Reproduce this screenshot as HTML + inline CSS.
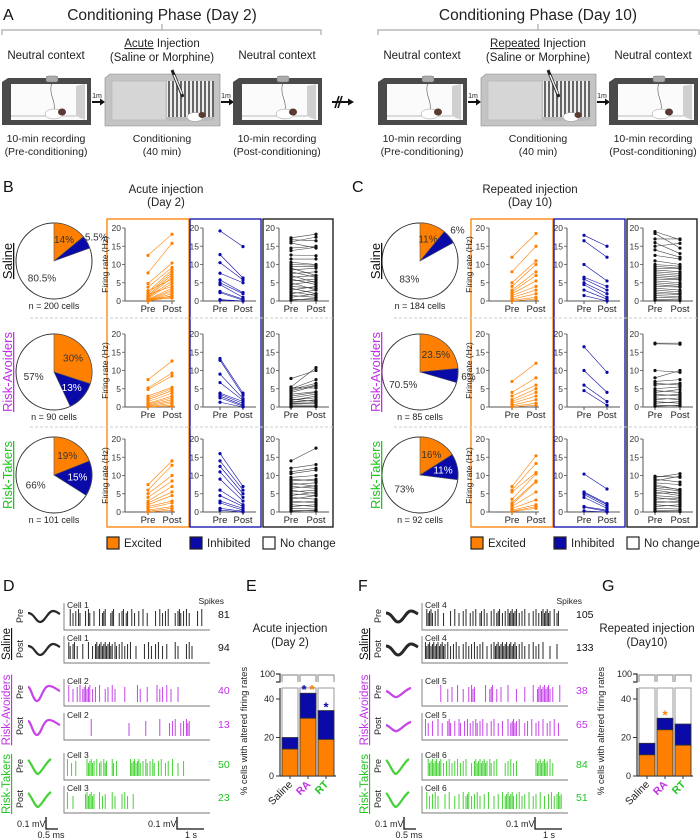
<!DOCTYPE html>
<html><head><meta charset="utf-8"><style>
html,body{margin:0;padding:0;background:#fff;}
svg{display:block;font-family:"Liberation Sans",Arial,sans-serif;}
</style></head><body>
<svg id="fig" width="700" height="840" viewBox="0 0 700 840" xmlns="http://www.w3.org/2000/svg">
<rect x="0" y="0" width="700" height="840" fill="#fff"/>
<g id="partA"></g>
<g id="partBC"></g>
<g id="partDF"></g>
<g id="partEG"></g>
</svg>
<script>
// ---------- DATA ----------
const pieGroups = ["Saline","Risk-Avoiders","Risk-Takers"];
const pieCellsB = [200, 90, 101];
const pieCellsC = [184, 85, 92];
const pieExcB = [14, 30, 19];
const pieInhB = [5.5, 13, 15];
const pieExcC = [11, 23.5, 16];
const pieInhC = [6, 6, 11];

const yTicks = [0,5,10,15,20];
// B Saline
const bSalExcPre = [12.5,7.7,4.8,3.8,2.5,2,1.5,1.2,1,0.8,0.5,0.3,0.2,0.1,0,0,2.8,1.8,0.6,0.4];
const bSalExcPost = [18.3,15.8,10.4,9.2,8.5,7.8,7.2,6.5,5.5,4.8,3.5,3,2.5,2,1.5,1,6,4,1.2,0.8];
const bSalInhPre = [19.2,12.7,10.5,7.6,5.8,5,4.5,2.6,2.3,0.4,0.2];
const bSalInhPost = [14.9,6.3,5.8,5,2.3,2,1,0.5,0.2,0,0];
const bSalNcPre = [17.3,16.8,16.2,14.5,13.8,12.6,11.5,10.6,10,9.5,9,8.5,8,7.5,7,6.5,6,5.5,5,4.5,4,3.5,3,2.5,2,1.5,1,0.5,0.2,15.9];
const bSalNcPost = [18.3,16.5,17.5,15,14.7,12.4,11.5,10,9.8,9.5,7,9,6.5,8,5,7,4.5,6,3,5.5,3.5,2,4,1.5,3,1,2,0.3,0.8,14.5];
// B RA
const bRaExcPre = [7.5,5.2,4.8,3,2.5,2,1.5,1,0.8,0.5,0.3,0.1,0,0];
const bRaExcPost = [12.6,9.3,8.5,5.4,5,4.5,3.8,3,2.5,2,1.5,1,0.5,0.2];
const bRaInhPre = [13.3,12.8,9,6.7,3.8,3.5,3,2.5,1.3];
const bRaInhPost = [3.8,3.2,2.3,1.8,1.5,1,0.5,0.2,0];
const bRaNcPre = [7.8,5.5,5,4.5,4,3.5,3,2.5,2,1.8,1.5,1.2,1,0.8,0.5,0.2,0,5.3,4.8,2.2];
const bRaNcPost = [10,10.8,7.5,6,5.8,4.2,4,3.5,2.5,3,1.8,2,1.2,1,0.5,0.2,0.1,5.2,6.5,1.5];
// B RT
const bRtExcPre = [7.5,6,5,4,3,2.5,2,1.5,1,0.5,0.2,0];
const bRtExcPost = [14,12.8,10,8.5,7,5.5,4.5,3,2.5,1.5,1,0.5];
const bRtInhPre = [16,14,12.5,11,9,6,4.5,3,2.5,1,0.5];
const bRtInhPost = [7,6,5,4,3,2,1.5,1,0.5,0.2,0];
const bRtNcPre = [14,12,10.5,9.5,9,8.5,8,7.5,7,6.5,6,5.5,5,4.5,4,3.5,3,2.5,2,1.5,1,0.5,0.2,11];
const bRtNcPost = [17.5,13,11.5,10,8.5,9,7,8,6.5,7.2,5,6,4.5,5.5,3.5,4.5,2.5,3,1.5,2,0.8,0.3,0.5,12];
// C Saline
const cSalExcPre = [12,8,5,4,3,2.5,2,1.5,1,0.5,0.2,0];
const cSalExcPost = [18.5,15,11,10,8,7,5.5,4,3,2,1,0.5];
const cSalInhPre = [18,16.5,10,6.5,6,5,4.5,3,1.5];
const cSalInhPost = [15,12,5.5,4,3,2,1,0.5,0];
const cSalNcPre = [19,18.5,17,16,15,14,12.5,11,10,9.5,9,8.5,8,7.5,7,6.5,6,5.5,5,4.5,4,3.5,3,2.5,2,1.5,1,0.5,0.2];
const cSalNcPost = [16.8,14.5,17,13,15.8,12,11.5,10,9.5,9,8.8,8,7.5,7,6.5,6,5.8,5,4.5,4,3.8,3,2.5,2,1.8,1.2,0.8,0.3,0.1];
// C RA
const cRaExcPre = [7,4,3,2,1.5,1,0.5,0.2,0];
const cRaExcPost = [12,8,6,5,4,3,2,1,0.5];
const cRaInhPre = [16.5,10,6,4.5];
const cRaInhPost = [9.5,4,1.5,0.5];
const cRaNcPre = [17.5,17.3,10,8,7,6.5,6,5,4.5,4,3.5,3,2.5,2,1.5,1,0.5,0.2];
const cRaNcPost = [17.5,17.2,9.5,10,7.5,6,6.5,5.5,4,4.8,3,3.5,2,2.5,1,1.5,0.3,0.5];
// C RT
const cRtExcPre = [7,6,5.5,3.5,2.5,2,1.5,1,0.5,0.2,0.1];
const cRtExcPost = [15.4,13.3,10.8,10.4,8.5,8.2,5.5,3.3,2,1.5,1];
const cRtInhPre = [10.4,5.5,5.2,4.8,4,1.5,1.3,0.3];
const cRtInhPost = [6.3,2.3,2,1.5,1,0.5,0.2,0];
const cRtNcPre = [9.8,9.5,9,8.5,8,7.5,7,6.5,6,5.5,5,4.5,4,3.5,3,2.5,2,1.5,1,0.5,0.2];
const cRtNcPost = [9.5,10.5,8.2,9.8,7.5,6,6.2,5.8,5,4.5,5.5,4,3.2,3.8,2.5,3,1.5,2,0.8,0.4,0.1];

// spike trains (time 0-100)
const spk1 = [3,5,7,9,10,14,16,17,20,24,26,27,28,32,33,34,38,40,41,43,44,47,49,52,55,58,64,67,69,71,73,78,80,81,82,84,86,88,94,97];
const spk2 = [2,3,5,6,8,12,16,19,21,22,23,24,25,26,27,28,29,30,31,32,33,35,36,38,40,42,44,46,50,56,59,61,64,66,69,72,78,80,86,88,90];
const spk3 = [2,5,8,10,12,13,14,15,16,17,19,21,24,28,30,33,35,42,51,53,58,65,67,69,72,75,80];
const spk4 = [18,45,57,67,74,76,78,82,84,86,87,88];
const spk5 = [1,4,7,15,16,17,18,19,20,22,24,25,27,28,29,33,34,36,46,47,48,49,50,51,52,53,55,57,58,60,62,63,66,68,71,73,76,80,84];
const spk6 = [1,5,14,15,16,17,18,19,20,24,26,28,33,35,40,42,44,48];
const spk7 = [2,3,4,5,6,8,10,14,19,22,25,28,30,33,35,37,40,41,43,45,48,50,52,53,54,56,58,60,61,62,63,64,65,66,68,70,72,75,78,80,82,84,85,86,87,88,89,90,93,95,96];
const spk8 = [1,2,3,4,5,6,7,8,9,10,11,12,13,14,15,17,19,21,23,25,28,30,32,34,36,38,40,42,45,48,50,51,52,53,54,55,56,57,58,59,60,61,62,63,64,65,66,68,70,72,75,78,80,82,85,90,95];
const spk9 = [12,17,20,24,28,32,34,35,36,44,47,48,49,52,55,60,66,72,78,81,82,83,84,85,86,87,88,89,90,92,97];
const spk10 = [1,3,6,10,13,17,18,19,22,25,26,29,31,33,35,37,38,40,42,45,48,50,53,56,60,62,63,64,65,66,68,72,74,77,80,82,85,88,90,93,96];
const spk11 = [3,4,5,6,7,8,9,10,11,12,14,16,18,20,22,24,26,28,30,34,36,37,38,39,40,41,42,43,44,45,47,48,50,52,58,60,62,64,66,80,81,82,83,84,85,86,87,88,90,92];
const spk12 = [2,4,6,8,10,15,18,22,25,28,30,31,32,34,36,38,40,43,46,50,53,56,58,59,60,61,62,63,64,66,68,70,72,75,78,80,83,86,89,91,93,95,96,97,98];
const spikeCountsD = [81,94,40,13,50,23];
const spikeCountsF = [105,133,38,65,84,51];
const cellLabelsD = ["Cell 1","Cell 1","Cell 2","Cell 2","Cell 3","Cell 3"];
const cellLabelsF = ["Cell 4","Cell 4","Cell 5","Cell 5","Cell 6","Cell 6"];

// bar charts
const barCats = ["Saline","RA","RT"];
const barExcE = [14,30,19];
const barTotE = [20,43,34];
const barExcG = [11,24,16];
const barTotG = [17,30,27];
const barTicks = [0,20,40];

// ---------- HELPERS ----------
const NS="http://www.w3.org/2000/svg";
const ORANGE="#ff8000", BLUE="#0a0aa8", PURPLE="#c030e6", GREEN="#22c422";
function mk(parent, tag, attrs, text){
  const e=document.createElementNS(NS,tag);
  for(const k in attrs) e.setAttribute(k,attrs[k]);
  if(text!==undefined) e.textContent=text;
  parent.appendChild(e); return e;
}
const gA=document.getElementById('partA');
const gBC=document.getElementById('partBC');
const gDF=document.getElementById('partDF');
const gEG=document.getElementById('partEG');

// ---------- PANEL A ----------
function neutralBox(x){
  const g=mk(gA,'g',{});
  
  
  mk(g,'polygon',{points:`${x},${82} ${x+6},${78} ${x+89},${78} ${x+89},${125} ${x},${125}`,fill:'#4a4a4a'});
  mk(g,'rect',{x:x+9,y:84,width:76,height:36,fill:'#fbfbfb'});
  mk(g,'polygon',{points:`${x+74},${86} ${x+83},${84} ${x+83},${120} ${x+74},${116}`,fill:'#d0d0d0'});
  mk(g,'line',{x1:x+9,y1:116,x2:x+74,y2:116,stroke:'#bbb','stroke-width':1});
  mk(g,'rect',{x:x+44,y:76,width:12,height:6,rx:2,fill:'#aaa',stroke:'#777','stroke-width':0.5});
  mk(g,'path',{d:`M${x+50},82 C${x+46},95 ${x+54},100 ${x+52},110`,fill:'none',stroke:'#555','stroke-width':0.6});
  mk(g,'ellipse',{cx:x+52,cy:114,rx:9,ry:5,fill:'#fff',stroke:'#999','stroke-width':0.5});
  mk(g,'ellipse',{cx:x+60,cy:112,rx:4,ry:3.5,fill:'#5a3a30'});
}
function condBox(x){
  const g=mk(gA,'g',{});
  
  
  mk(g,'polygon',{points:`${x},${78} ${x+5},${74} ${x+115},${74} ${x+115},${126} ${x},${126}`,fill:'#c4c4c4',stroke:'#888','stroke-width':0.6});
  mk(g,'rect',{x:x+7,y:81,width:54,height:39,fill:'#d6d6d6',stroke:'#aaa','stroke-width':0.5});
  mk(g,'rect',{x:x+62,y:81,width:47,height:39,fill:'#eee'});
  for(let i=0;i<12;i++) mk(g,'rect',{x:x+63+i*4,y:81,width:2,height:36,fill:'#666'});
  mk(g,'rect',{x:x+62,y:117,width:47,height:4,fill:'#bbb'});
  mk(g,'ellipse',{cx:x+90,cy:117,rx:8,ry:4.5,fill:'#fff',stroke:'#999','stroke-width':0.5});
  mk(g,'ellipse',{cx:x+97,cy:115,rx:3.5,ry:3,fill:'#5a3a30'});
  mk(g,'line',{x1:x+67,y1:70,x2:x+78,y2:97,stroke:'#222','stroke-width':3});
  mk(g,'line',{x1:x+69,y1:75,x2:x+77,y2:94,stroke:'#eee','stroke-width':1.5});
}
function arrow(x){
  const g=mk(gA,'g',{});
  
  
  mk(g,'text',{x:x+5,y:98,'font-size':7,'text-anchor':'middle',fill:'#222'},'1m');
  mk(g,'line',{x1:x,y1:102,x2:x+8,y2:102,stroke:'#111','stroke-width':2});
  mk(g,'polygon',{points:`${x+8},98.5 ${x+13},102 ${x+8},105.5`,fill:'#111'});
}
function txt(parent,x,y,s,t,attrs){
  const a=Object.assign({x:x,y:y,'font-size':s,'text-anchor':'middle',fill:'#222'},attrs||{});
  return mk(parent,'text',a,t);
}
function phase(off, title, inj){
  const cx = off===0?162:538;
  const t=txt(gA,cx,20,15.5,title);
  
  
  const x0 = off===0?2:378, x1 = off===0?322:700;
  const br=mk(gA,'path',{d:`M${x0},35 V30 H${x1-1} V35 M${cx},30 V24`,fill:'none',stroke:'#aaa','stroke-width':1.2});
  
  
  const bx=off; 
  neutralBox(bx+2); arrow(bx+92); condBox(bx+105); arrow(bx+221); neutralBox(bx+233);
  txt(gA,bx+46,59,11.5,'Neutral context');
  txt(gA,bx+277,59,11.5,'Neutral context');
  const it=mk(gA,'text',{x:bx+162,y:47,'font-size':11.5,'text-anchor':'middle',fill:'#222'});
  
  
  mk(it,'tspan',{'text-decoration':'underline'},inj); mk(it,'tspan',{}," Injection");
  txt(gA,bx+162,61,11.5,'(Saline or Morphine)');
  txt(gA,bx+46,142,10.5,'10-min recording');
  txt(gA,bx+46,155,10.5,'(Pre-conditioning)');
  txt(gA,bx+162,142,10.5,'Conditioning');
  txt(gA,bx+162,155,10.5,'(40 min)');
  txt(gA,bx+277,142,10.5,'10-min recording');
  txt(gA,bx+277,155,10.5,'(Post-conditioning)');
}
txt(gA,3,20,16,'A',{'text-anchor':'start',fill:'#111'});
phase(0,'Conditioning Phase (Day 2)','Acute');
phase(376,'Conditioning Phase (Day 10)','Repeated');
const brk=mk(gA,'g',{});


mk(brk,'line',{x1:332,y1:102,x2:348,y2:102,stroke:'#111','stroke-width':2});
mk(brk,'polygon',{points:'348,98.5 354,102 348,105.5',fill:'#111'});
mk(brk,'line',{x1:335,y1:108,x2:339,y2:96,stroke:'#111','stroke-width':1.6});
mk(brk,'line',{x1:338,y1:108,x2:342,y2:96,stroke:'#111','stroke-width':1.6});

// ---------- PANELS B & C ----------
txt(gBC,3,192,16,'B',{'text-anchor':'start',fill:'#111'});
txt(gBC,352,192,16,'C',{'text-anchor':'start',fill:'#111'});
txt(gBC,166,193,11.5,'Acute injection');
txt(gBC,166,206,11.5,'(Day 2)');
txt(gBC,530,193,11.5,'Repeated injection');
txt(gBC,530,206,11.5,'(Day 10)');

const rowZero=[301,407,512];
const grpColors=['#111',PURPLE,GREEN];
function pie(cx,cy,exc,inh,n,name){
  const r=38;
  const g=mk(gBC,'g',{});
  
  
  mk(g,'circle',{cx:cx,cy:cy,r:r,fill:'#fff',stroke:'#333','stroke-width':1});
  function pt(p,rr){const a=p/100*2*Math.PI; return [cx+rr*Math.sin(a), cy-rr*Math.cos(a)];}
  function slice(p0,p1,col,nm){
    const a=pt(p0,r), b=pt(p1,r); const large=(p1-p0)>50?1:0;
    const s=mk(g,'path',{d:`M${cx},${cy} L${a[0]},${a[1]} A${r},${r} 0 ${large} 1 ${b[0]},${b[1]} Z`,fill:col,stroke:'#555','stroke-width':0.6});
    
    
  }
  slice(0,exc,ORANGE,'slice-excited');
  slice(exc,exc+inh,BLUE,'slice-inhibited');
  function lab(p0,p1,col){
    const v=p1-p0; const rr = v<8?r*1.28:(v>50?r*0.55:r*0.62);
    const q=pt((p0+p1)/2,rr);
    txt(g,q[0],q[1]+3.5,10,(Math.round(v*10)/10)+'%',{fill:col});
  }
  lab(0,exc,'#333'); lab(exc,exc+inh, inh<8?'#333':'#fff'); lab(exc+inh,100,'#333');
  txt(g,cx,cy+r+10,9,'n = '+n+' cells');
}
function scatter(ax,pre,post,col,row,name,ylabel){
  const y0=rowZero[row]; const ys=v=>y0-v*73/20;
  const px=ax+(col===ORANGE?23:(col===BLUE?17:12)), qx=ax+(col===ORANGE?47:(col===BLUE?40:37));
  const g=mk(gBC,'g',{});
  
  
  mk(g,'line',{x1:ax,y1:ys(20),x2:ax,y2:y0,stroke:'#555','stroke-width':1});
  mk(g,'line',{x1:ax,y1:y0,x2:ax+(col===BLUE?53:50),y2:y0,stroke:'#555','stroke-width':1});
  yTicks.forEach(t=>{mk(g,'line',{x1:ax-3,y1:ys(t),x2:ax,y2:ys(t),stroke:'#555','stroke-width':0.8});
    txt(g,ax-4,ys(t)+3,8.5,String(t),{'text-anchor':'end',fill:'#333'});});
  mk(g,'line',{x1:px,y1:y0,x2:px,y2:y0+3,stroke:'#555'}); mk(g,'line',{x1:qx,y1:y0,x2:qx,y2:y0+3,stroke:'#555'});
  txt(g,px,y0+11,9.5,'Pre'); txt(g,qx,y0+11,9.5,'Post');
  if(ylabel){const yl=txt(g,0,0,8.5,'Firing rate (Hz)',{transform:`translate(${ax-17},${ys(10)}) rotate(-90)`});
    }
  const lc = col==='#111'?'#444':col;
  for(let i=0;i<pre.length;i++){
    const l=mk(g,'line',{x1:px,y1:ys(pre[i]),x2:qx,y2:ys(post[i]),stroke:lc,'stroke-width':0.6});
    
    
    const a=mk(g,'circle',{cx:px,cy:ys(pre[i]),r:1.6,fill:col});
    
    
    const b=mk(g,'circle',{cx:qx,cy:ys(post[i]),r:1.6,fill:col});
    
    
  }
}
function sideBlock(off,excs,inhs,ns,data){
  const b1=mk(gBC,'rect',{x:107+off,y:219,width:82,height:308,fill:'none',stroke:ORANGE,'stroke-width':1.3});
   
  const b2=mk(gBC,'rect',{x:190+off,y:219,width:71,height:308,fill:'none',stroke:BLUE,'stroke-width':1.3});
   
  const b3=mk(gBC,'rect',{x:263+off,y:219,width:70,height:308,fill:'none',stroke:'#111','stroke-width':1.3});
   
  [318,427].forEach(y=>{const d=mk(gBC,'line',{x1:30+off,y1:y,x2:333+off,y2:y,stroke:'#ccc','stroke-width':1,'stroke-dasharray':'3,2'});
     });
  const pcx=54+off+(off?2:0);
  for(let r=0;r<3;r++){
    const cy=[261,372,475][r];
    pie(pcx,cy,excs[r],inhs[r],ns[r],pieGroups[r]);
    const gl=txt(gBC,0,0,13,pieGroups[r],{transform:`translate(${12+off+(off?4:0)},${cy}) rotate(-90)`,fill:grpColors[r],'text-decoration':'underline'});
    
    
    scatter(125+off,data[r][0],data[r][1],ORANGE,r,'excited-'+pieGroups[r],true);
    scatter(203+off,data[r][2],data[r][3],BLUE,r,'inhibited-'+pieGroups[r],false);
    scatter(279+off,data[r][4],data[r][5],'#111',r,'nochange-'+pieGroups[r],false);
  }
  const lg=mk(gBC,'g',{});
  
  
  [[107,ORANGE,'Excited'],[190,BLUE,'Inhibited'],[263,'#fff','No change']].forEach(it=>{
    mk(lg,'rect',{x:it[0]+off,y:537,width:12,height:12,fill:it[1],stroke:'#222','stroke-width':1.2});
    txt(lg,it[0]+off+17,547,11.5,it[2],{'text-anchor':'start'});
  });
}
sideBlock(0,pieExcB,pieInhB,pieCellsB,[
  [bSalExcPre,bSalExcPost,bSalInhPre,bSalInhPost,bSalNcPre,bSalNcPost],
  [bRaExcPre,bRaExcPost,bRaInhPre,bRaInhPost,bRaNcPre,bRaNcPost],
  [bRtExcPre,bRtExcPost,bRtInhPre,bRtInhPost,bRtNcPre,bRtNcPost]]);
sideBlock(364,pieExcC,pieInhC,pieCellsC,[
  [cSalExcPre,cSalExcPost,cSalInhPre,cSalInhPost,cSalNcPre,cSalNcPost],
  [cRaExcPre,cRaExcPost,cRaInhPre,cRaInhPost,cRaNcPre,cRaNcPost],
  [cRtExcPre,cRtExcPost,cRtInhPre,cRtInhPost,cRtNcPre,cRtNcPost]]);

// ---------- PANELS D & F ----------
txt(gDF,3,591,16,'D',{'text-anchor':'start',fill:'#111'});
txt(gDF,358,591,16,'F',{'text-anchor':'start',fill:'#111'});
const baselines=[630,663,706,740,780,813];
function traces(off,trains,counts,cells){
  const x0=64+off, w=146;
  const tx=t=>x0+2+t/100*(w-6);
  txt(gDF,x0+160,604,8.5,'Spikes',{'text-anchor':'end'});
  for(let r=0;r<6;r++){
    const grp=Math.floor(r/2); const col=['#111',PURPLE,GREEN][grp];
    const spcol=['#111',PURPLE,'#33cc22'][grp];
    const b=baselines[r];
    const g=mk(gDF,'g',{});
    
    
    mk(g,'path',{d:`M${x0},${b-27} V${b} H${x0+w}`,fill:'none',stroke:'#777','stroke-width':0.9});
    txt(g,x0+3,b-22,8.5,cells[r],{'text-anchor':'start'});
    trains[r].forEach((t,i)=>{
      const h = (i%3===0)?17:(i%3===1?13:15);
      const s=mk(g,'line',{x1:tx(t),y1:b-4,x2:tx(t),y2:b-4-h,stroke:spcol,'stroke-width':0.9});
      
      
    });
    txt(g,x0+w+8,b-12,10.5,String(counts[r]),{'text-anchor':'start',fill:col});
    const wx=28+off, wy=b-14;
    let d;
    if(grp===0) d=`M${wx},${wy-3} C${wx+6},${wy-3} ${wx+8},${wy+6} ${wx+12},${wy+6} C${wx+17},${wy+6} ${wx+20},${wy-5} ${wx+25},${wy-5} C${wx+28},${wy-5} ${wx+30},${wy-3} ${wx+32},${wy-2}`;
    else if(grp===1) d=(off===0)?`M${wx},${wy-5} C${wx+3},${wy-5} ${wx+5},${wy+9} ${wx+9},${wy+9} C${wx+13},${wy+9} ${wx+15},${wy-6} ${wx+21},${wy-6} C${wx+26},${wy-6} ${wx+29},${wy-2} ${wx+32},${wy-1}`
      :`M${wx},${wy-1} C${wx+4},${wy} ${wx+7},${wy+6} ${wx+11},${wy+5} C${wx+16},${wy+3} ${wx+20},${wy-3} ${wx+25},${wy-4}`;
    else d=`M${wx},${wy-6} C${wx+3},${wy-4} ${wx+7},${wy+8} ${wx+10},${wy+8} C${wx+14},${wy+6} ${wx+18},${wy-4} ${wx+23},${wy-7}`;
    const wf=mk(gDF,'path',{d:d,fill:'none',stroke:spcol,'stroke-width':(grp===0&&off)?3:2.2,'stroke-opacity':0.9});
    
    
    txt(gDF,0,0,9,r%2===0?'Pre':'Post',{transform:`translate(${23+off},${b-14}) rotate(-90)`});
  }
  [['Saline',644,'#111'],['Risk-Avoiders',710,PURPLE],['Risk-Takers',784,GREEN]].forEach(it=>{
    const gl=txt(gDF,0,0,11.5,it[0],{transform:`translate(${10+off},${it[1]}) rotate(-90)`,fill:it[2],'text-decoration':'underline'});
    
    
  });
  const sb=mk(gDF,'g',{});
  
  
  txt(sb,17+off,827,9,'0.1 mV',{'text-anchor':'start'});
  mk(sb,'path',{d:`M${46+off},${817} V${829} H${58+off}`,fill:'none',stroke:'#111','stroke-width':1.3});
  txt(sb,51+off,838,9,'0.5 ms');
  txt(sb,148+off,827,9,'0.1 mV',{'text-anchor':'start'});
  mk(sb,'path',{d:`M${177+off},${817} V${829} H${204+off}`,fill:'none',stroke:'#111','stroke-width':1.3});
  txt(sb,191+off,838,9,'1 s');
}
traces(0,[spk1,spk2,spk3,spk4,spk5,spk6],spikeCountsD,cellLabelsD);
traces(358,[spk7,spk8,spk9,spk10,spk11,spk12],spikeCountsF,cellLabelsF);

// ---------- PANELS E & G ----------
txt(gEG,246,591,16,'E',{'text-anchor':'start',fill:'#111'});
txt(gEG,602,591,16,'G',{'text-anchor':'start',fill:'#111'});
function bars(ax,exc,tot,title,stars){
  const y0=776, ys=v=>y0-v*1.925, top=688;
  const g=mk(gEG,'g',{});
  
  
  txt(g,ax+10,632,11.5,title[0]); txt(g,ax+10,646,11.5,title[1]);
  mk(g,'line',{x1:ax,y1:top,x2:ax,y2:y0,stroke:'#333','stroke-width':1.2});
  mk(g,'line',{x1:ax,y1:y0,x2:ax+56,y2:y0,stroke:'#333','stroke-width':1.2});
  mk(g,'path',{d:`M${ax-4},674 H${ax} V682 H${ax-4}`,fill:'none',stroke:'#333','stroke-width':1.2});
  txt(g,ax-5,677,9,'100',{'text-anchor':'end'});
  barTicks.forEach(t=>{mk(g,'line',{x1:ax-4,y1:ys(t),x2:ax,y2:ys(t),stroke:'#333'});
    txt(g,ax-6,ys(t)+3,9,String(t),{'text-anchor':'end'});});
  const yl=txt(g,0,0,9.5,'% cells with altered firing rates',{transform:`translate(${ax-33},${731}) rotate(-90)`});
  
  barCats.forEach((c,i)=>{
    const bx=ax+2+i*18, bw=16;
    mk(g,'path',{d:`M${bx},682 V675 H${bx+bw} V682`,fill:'none',stroke:'#999','stroke-width':1.2});
    mk(g,'rect',{x:bx,y:top,width:bw,height:y0-top,fill:'#fff',stroke:'#999','stroke-width':1});
    const bb=mk(g,'rect',{x:bx,y:ys(tot[i]),width:bw,height:ys(exc[i])-ys(tot[i]),fill:BLUE,stroke:'#333','stroke-width':0.8});
    
    
    const bo=mk(g,'rect',{x:bx,y:ys(exc[i]),width:bw,height:y0-ys(exc[i]),fill:ORANGE,stroke:'#333','stroke-width':0.8});
    
    
    mk(g,'line',{x1:bx+bw/2,y1:y0,x2:bx+bw/2,y2:y0+3,stroke:'#333'});
    const cl=txt(g,0,0,10.5,c,{transform:`translate(${bx+bw/2+3},${y0+9}) rotate(-45)`,'text-anchor':'end',fill:['#222',PURPLE,GREEN][i],'font-weight':i?'bold':'normal'});
    
    
    (stars[i]||[]).forEach((s,k,arr)=>{
      const sx = arr.length>1 ? bx+4+k*8 : bx+bw/2;
      txt(g,sx,ys(tot[i])+1,13,'*',{fill:s,'font-weight':'bold'});
    });
  });
}
bars(280,barExcE,barTotE,['Acute injection','(Day 2)'],[[],[BLUE,ORANGE],[BLUE]]);
bars(637,barExcG,barTotG,['Repeated injection','(Day10)'],[[],[ORANGE],[]]);
</script>
</body></html>
